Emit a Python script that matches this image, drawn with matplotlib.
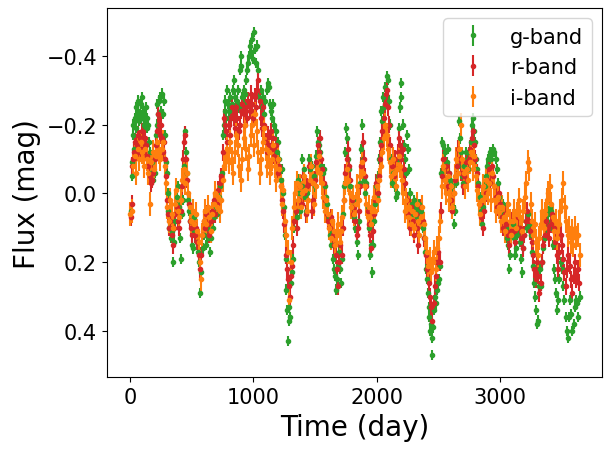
import matplotlib

matplotlib.use("Agg")
import matplotlib.pyplot as plt

# g-band (day, mag)
g_t = [10, 14, 18, 22, 27, 32, 40, 46, 52, 57, 63, 68, 74, 80, 86, 92, 98, 104, 110, 116,
       122, 128, 134, 140, 150, 158, 165, 172, 180, 190, 200, 210, 216, 222, 230, 238, 246, 252, 260, 266,
       272, 280, 288, 296, 305, 312, 320, 330, 338, 346, 354, 362, 370, 378, 388, 396, 404, 410, 418, 426,
       436, 445, 452, 460, 470, 480, 490, 500, 508, 515, 522, 530, 540, 550, 560, 570, 578, 590, 600, 612,
       624, 636, 648, 660, 672, 684, 696, 708, 720, 730, 742, 750, 758, 766, 772, 780, 788, 794, 802, 810,
       818, 826, 834, 842, 850, 858, 866, 874, 882, 890, 896, 902, 910, 920, 928, 936, 944, 952, 960, 968,
       976, 984, 992, 1000, 1008, 1016, 1024, 1032, 1040, 1048, 1058, 1068, 1078, 1088, 1098, 1108, 1118, 1128, 1136, 1144,
       1152, 1160, 1170, 1180, 1190, 1200, 1210, 1218, 1226, 1234, 1242, 1250, 1256, 1262, 1268, 1274, 1280, 1286, 1292, 1300,
       1308, 1316, 1324, 1332, 1342, 1352, 1360, 1370, 1380, 1390, 1398, 1408, 1418, 1428, 1438, 1448, 1458, 1468, 1478, 1490,
       1500, 1510, 1518, 1526, 1534, 1542, 1552, 1562, 1572, 1582, 1592, 1600, 1610, 1620, 1628, 1636, 1646, 1656, 1664, 1672,
       1680, 1688, 1696, 1704, 1712, 1720, 1730, 1738, 1746, 1754, 1762, 1770, 1778, 1786, 1796, 1806, 1816, 1826, 1836, 1846,
       1856, 1866, 1874, 1882, 1890, 1898, 1906, 1916, 1926, 1936, 1944, 1952, 1960, 1968, 1976, 1984, 1994, 2004, 2014, 2022,
       2030, 2038, 2046, 2054, 2062, 2070, 2080, 2090, 2098, 2106, 2116, 2124, 2134, 2144, 2154, 2164, 2174, 2182, 2188, 2194,
       2200, 2210, 2220, 2230, 2238, 2246, 2254, 2262, 2272, 2282, 2292, 2302, 2312, 2322, 2332, 2342, 2352, 2362, 2372, 2382,
       2390, 2398, 2406, 2414, 2420, 2426, 2432, 2438, 2444, 2450, 2456, 2464, 2472, 2480, 2488, 2496, 2504, 2512, 2520, 2528,
       2536, 2546, 2556, 2566, 2576, 2586, 2596, 2606, 2616, 2626, 2636, 2646, 2656, 2664, 2672, 2680, 2690, 2700, 2710, 2720,
       2730, 2740, 2750, 2760, 2770, 2778, 2786, 2794, 2804, 2814, 2824, 2834, 2844, 2854, 2864, 2874, 2884, 2894, 2904, 2914,
       2924, 2934, 2944, 2954, 2964, 2974, 2984, 2994, 3004, 3014, 3024, 3034, 3044, 3054, 3064, 3072, 3080, 3090, 3100, 3110,
       3120, 3130, 3140, 3150, 3160, 3170, 3178, 3186, 3196, 3206, 3216, 3226, 3236, 3246, 3256, 3264, 3272, 3280, 3288, 3296,
       3304, 3312, 3320, 3330, 3340, 3350, 3360, 3370, 3380, 3390, 3400, 3410, 3420, 3430, 3440, 3448, 3456, 3464, 3472, 3480,
       3490, 3500, 3510, 3520, 3530, 3540, 3548, 3556, 3566, 3576, 3586, 3596, 3606, 3614, 3622, 3634, 3646]
g_m = [0.05, -0.05, -0.09, -0.17, -0.2, -0.13, -0.22, -0.19, -0.25, -0.22, -0.27, -0.24, -0.21, -0.23, -0.26, -0.22, -0.28, -0.24, -0.2, -0.23,
       -0.21, -0.25, -0.22, -0.19, -0.2, -0.15, -0.12, -0.06, -0.09, -0.04, -0.06, -0.17, -0.2, -0.26, -0.23, -0.27, -0.28, -0.24, -0.29, -0.23,
       -0.27, -0.17, -0.09, -0.06, 0.0, 0.05, 0.1, 0.13, 0.11, 0.2, 0.14, 0.08, 0.03, 0.01, -0.02, 0.04, 0.13, 0.19, 0.06, 0.02,
       -0.08, -0.18, -0.12, -0.06, 0.02, 0.05, 0.08, 0.15, 0.16, 0.11, 0.07, 0.1, 0.14, 0.17, 0.2, 0.29, 0.23, 0.16, 0.12, 0.15,
       0.1, 0.13, 0.17, 0.13, 0.1, 0.07, 0.04, 0.06, 0.01, -0.02, -0.06, -0.17, -0.2, -0.24, -0.27, -0.22, -0.3, -0.26, -0.24, -0.28,
       -0.22, -0.26, -0.3, -0.33, -0.28, -0.25, -0.27, -0.3, -0.25, -0.36, -0.4, -0.37, -0.28, -0.26, -0.3, -0.29, -0.33, -0.36, -0.38, -0.4,
       -0.43, -0.41, -0.45, -0.39, -0.47, -0.42, -0.38, -0.43, -0.36, -0.28, -0.3, -0.25, -0.28, -0.23, -0.27, -0.3, -0.32, -0.31, -0.26, -0.24,
       -0.22, -0.26, -0.2, -0.18, -0.12, -0.15, -0.1, -0.07, -0.04, -0.07, 0.0, 0.04, 0.12, 0.19, 0.28, 0.34, 0.43, 0.37, 0.33, 0.36,
       0.26, 0.23, 0.19, 0.1, 0.05, 0.07, -0.04, 0.0, 0.05, -0.02, -0.1, -0.07, 0.01, 0.05, 0.0, -0.1, -0.07, -0.04, -0.08, -0.05,
       -0.02, -0.11, -0.18, -0.15, -0.14, -0.12, -0.08, -0.06, -0.07, -0.02, 0.01, 0.03, 0.07, 0.12, 0.15, 0.11, 0.19, 0.22, 0.24, 0.28,
       0.25, 0.21, 0.17, 0.22, 0.26, 0.19, 0.06, -0.02, -0.12, -0.19, -0.16, -0.1, -0.07, -0.02, 0.04, 0.02, 0.07, 0.1, 0.14, 0.18,
       0.08, -0.03, -0.13, -0.2, -0.1, -0.04, 0.0, -0.03, 0.04, 0.1, 0.18, 0.15, 0.23, 0.15, 0.08, 0.03, -0.02, 0.01, -0.05, -0.1,
       -0.15, -0.24, -0.21, -0.28, -0.25, -0.31, -0.34, -0.33, -0.27, -0.2, -0.1, -0.03, -0.06, -0.02, 0.01, 0.0, -0.1, -0.19, -0.25, -0.32,
       -0.28, -0.2, -0.14, -0.1, -0.06, -0.17, -0.13, -0.07, 0.0, 0.03, 0.06, 0.02, 0.04, 0.07, 0.05, 0.03, 0.08, 0.05, 0.1, 0.13,
       0.17, 0.22, 0.25, 0.29, 0.33, 0.36, 0.4, 0.38, 0.42, 0.47, 0.39, 0.34, 0.3, 0.32, 0.28, 0.26, 0.25, 0.21, -0.06, -0.15,
       -0.14, -0.08, -0.12, -0.09, -0.13, -0.06, -0.04, -0.02, 0.04, 0.09, 0.05, -0.03, -0.08, -0.21, -0.16, -0.12, -0.05, -0.03, -0.08, -0.12,
       -0.1, -0.07, -0.12, -0.15, -0.2, -0.22, -0.18, -0.15, -0.1, -0.07, -0.03, 0.01, 0.05, 0.09, 0.04, -0.02, -0.05, -0.08, -0.1, -0.12,
       -0.1, -0.12, -0.13, -0.12, -0.1, -0.07, -0.03, 0.01, 0.04, 0.07, 0.03, 0.06, 0.1, 0.13, 0.15, 0.22, 0.18, 0.12, 0.09, 0.13,
       0.18, 0.16, 0.12, 0.1, 0.14, 0.19, 0.23, 0.16, 0.12, 0.08, 0.1, 0.06, 0.09, 0.12, 0.17, 0.21, 0.26, 0.3, 0.34, 0.38,
       0.37, 0.27, 0.22, 0.27, 0.2, 0.16, 0.13, 0.1, 0.08, 0.06, 0.04, 0.05, 0.1, 0.15, 0.22, 0.25, 0.29, 0.34, 0.31, 0.25,
       0.2, 0.22, 0.27, 0.31, 0.36, 0.4, 0.42, 0.36, 0.31, 0.35, 0.4, 0.38, 0.33, 0.31, 0.32, 0.36, 0.3]
g_err = 0.015

# r-band (day, mag)
r_t = [8, 14, 20, 26, 34, 42, 50, 58, 66, 74, 82, 90, 98, 106, 114, 122, 130, 140, 150, 160,
       170, 180, 190, 200, 210, 218, 226, 234, 242, 250, 258, 266, 274, 284, 292, 300, 308, 318, 328, 338,
       348, 358, 368, 378, 390, 400, 410, 420, 430, 440, 448, 456, 466, 476, 486, 496, 506, 516, 526, 536,
       546, 556, 566, 576, 586, 596, 608, 620, 632, 644, 656, 668, 680, 692, 704, 716, 728, 740, 750, 760,
       770, 780, 790, 800, 810, 820, 830, 840, 850, 860, 870, 880, 890, 900, 910, 920, 930, 940, 950, 960,
       970, 980, 990, 1000, 1010, 1020, 1030, 1040, 1050, 1060, 1070, 1080, 1090, 1100, 1110, 1120, 1130, 1140, 1150, 1160,
       1170, 1180, 1190, 1200, 1210, 1220, 1230, 1240, 1252, 1262, 1272, 1280, 1288, 1296, 1304, 1312, 1322, 1332, 1344, 1356,
       1366, 1378, 1390, 1402, 1414, 1426, 1438, 1450, 1462, 1474, 1486, 1498, 1510, 1520, 1530, 1540, 1550, 1560, 1572, 1584,
       1596, 1608, 1620, 1632, 1644, 1656, 1666, 1676, 1686, 1696, 1706, 1716, 1726, 1736, 1746, 1756, 1766, 1776, 1786, 1796,
       1806, 1816, 1826, 1836, 1846, 1856, 1866, 1876, 1886, 1896, 1906, 1916, 1926, 1936, 1946, 1956, 1966, 1976, 1986, 1996,
       2006, 2016, 2026, 2036, 2046, 2056, 2066, 2076, 2084, 2092, 2100, 2110, 2120, 2130, 2140, 2150, 2160, 2170, 2180, 2190,
       2200, 2210, 2220, 2230, 2242, 2254, 2266, 2278, 2290, 2302, 2314, 2326, 2338, 2350, 2362, 2374, 2386, 2398, 2410, 2420,
       2430, 2440, 2450, 2460, 2470, 2480, 2490, 2500, 2510, 2520, 2530, 2540, 2552, 2564, 2576, 2588, 2600, 2612, 2624, 2636,
       2648, 2660, 2672, 2684, 2696, 2708, 2720, 2732, 2744, 2756, 2768, 2778, 2788, 2798, 2810, 2822, 2834, 2846, 2858, 2870,
       2882, 2894, 2906, 2918, 2930, 2942, 2954, 2966, 2978, 2990, 3002, 3014, 3026, 3038, 3050, 3062, 3074, 3086, 3098, 3110,
       3122, 3134, 3146, 3158, 3170, 3182, 3194, 3206, 3218, 3230, 3242, 3254, 3266, 3278, 3288, 3298, 3308, 3318, 3328, 3338,
       3350, 3362, 3374, 3386, 3398, 3410, 3422, 3434, 3446, 3458, 3470, 3480, 3490, 3500, 3510, 3520, 3530, 3540, 3550, 3562,
       3574, 3586, 3596, 3606, 3616, 3628, 3640]
r_m = [0.07, 0.03, -0.08, -0.1, -0.12, -0.15, -0.11, -0.14, -0.17, -0.12, -0.16, -0.13, -0.18, -0.15, -0.12, -0.16, -0.14, -0.11, -0.08, -0.05,
       -0.03, -0.04, -0.06, -0.1, -0.14, -0.18, -0.23, -0.2, -0.17, -0.2, -0.16, -0.12, -0.15, -0.1, -0.05, 0.02, 0.06, 0.1, 0.08, 0.12,
       0.15, 0.1, 0.06, 0.04, 0.08, 0.1, 0.05, -0.02, -0.1, -0.15, -0.17, -0.1, -0.04, 0.03, 0.08, 0.1, 0.12, 0.09, 0.12, 0.1,
       0.14, 0.18, 0.22, 0.18, 0.12, 0.08, 0.1, 0.06, 0.09, 0.12, 0.08, 0.05, 0.02, 0.06, 0.03, -0.01, -0.03, -0.05, -0.12, -0.22,
       -0.2, -0.18, -0.15, -0.2, -0.17, -0.22, -0.25, -0.22, -0.19, -0.25, -0.22, -0.18, -0.2, -0.24, -0.26, -0.23, -0.2, -0.25, -0.22, -0.27,
       -0.24, -0.29, -0.26, -0.22, -0.28, -0.25, -0.3, -0.33, -0.27, -0.22, -0.19, -0.25, -0.2, -0.15, -0.12, -0.17, -0.14, -0.18, -0.13, -0.16,
       -0.11, -0.14, -0.1, -0.06, -0.08, -0.02, 0.02, 0.05, 0.09, 0.18, 0.22, 0.25, 0.27, 0.3, 0.24, 0.21, 0.15, 0.08, 0.05, 0.1,
       0.02, -0.02, 0.03, -0.05, 0.0, 0.06, -0.02, -0.08, -0.03, 0.05, 0.02, -0.04, -0.09, -0.14, -0.12, -0.16, -0.1, -0.07, -0.03, 0.02,
       0.06, 0.08, 0.1, 0.07, 0.12, 0.15, 0.18, 0.22, 0.27, 0.2, 0.15, 0.18, 0.1, 0.02, -0.06, -0.1, -0.13, -0.08, -0.04, 0.02,
       0.06, 0.04, 0.08, 0.12, 0.1, 0.05, -0.02, -0.08, -0.15, -0.1, -0.05, -0.02, 0.05, 0.09, 0.12, 0.16, 0.11, 0.06, 0.02, -0.03,
       0.0, -0.05, -0.1, -0.14, -0.18, -0.22, -0.26, -0.29, -0.3, -0.25, -0.2, -0.14, -0.08, -0.1, -0.05, -0.1, -0.07, -0.12, -0.16, -0.14,
       -0.1, -0.13, -0.07, -0.03, 0.02, 0.06, 0.1, 0.04, 0.08, 0.12, 0.06, 0.1, 0.15, 0.08, 0.04, 0.08, 0.13, 0.18, 0.22, 0.26,
       0.3, 0.33, 0.37, 0.32, 0.27, 0.24, 0.2, 0.17, 0.2, 0.05, -0.05, -0.1, -0.04, -0.08, -0.02, -0.06, 0.02, 0.05, 0.0, -0.04,
       -0.08, -0.13, -0.1, -0.06, -0.02, -0.05, -0.09, -0.04, -0.1, -0.13, -0.16, -0.18, -0.14, -0.1, -0.06, -0.02, 0.03, 0.07, 0.1, 0.05,
       0.0, -0.04, -0.07, -0.03, -0.08, -0.05, -0.02, 0.01, 0.04, 0.0, 0.03, 0.07, 0.1, 0.06, 0.09, 0.12, 0.15, 0.11, 0.08, 0.11,
       0.14, 0.1, 0.07, 0.1, 0.13, 0.16, 0.12, 0.08, 0.05, 0.08, 0.11, 0.14, 0.18, 0.22, 0.25, 0.2, 0.24, 0.29, 0.26, 0.2,
       0.15, 0.12, 0.08, 0.1, 0.13, 0.09, 0.06, 0.1, 0.14, 0.18, 0.22, 0.17, 0.12, 0.15, 0.19, 0.23, 0.27, 0.22, 0.18, 0.21,
       0.25, 0.29, 0.24, 0.2, 0.25, 0.22, 0.26]
r_err = 0.025

# i-band (day, mag)
i_t = [4, 16, 28, 40, 52, 64, 76, 88, 100, 112, 124, 136, 148, 160, 172, 184, 196, 208, 220, 232,
       244, 256, 268, 280, 292, 304, 316, 328, 340, 352, 364, 376, 388, 400, 412, 424, 436, 448, 460, 472,
       484, 496, 508, 520, 532, 544, 556, 566, 574, 584, 596, 608, 620, 632, 644, 656, 668, 680, 692, 704,
       716, 728, 740, 752, 764, 776, 788, 800, 812, 824, 836, 848, 860, 872, 884, 896, 908, 920, 932, 944,
       956, 968, 980, 992, 1004, 1016, 1028, 1040, 1052, 1064, 1076, 1088, 1100, 1112, 1124, 1136, 1148, 1160, 1172, 1184,
       1196, 1208, 1220, 1232, 1244, 1256, 1268, 1280, 1292, 1302, 1314, 1326, 1338, 1350, 1362, 1374, 1386, 1398, 1410, 1422,
       1434, 1446, 1458, 1470, 1482, 1494, 1506, 1518, 1530, 1542, 1554, 1566, 1578, 1590, 1602, 1614, 1626, 1638, 1650, 1662,
       1674, 1686, 1698, 1710, 1722, 1734, 1746, 1758, 1770, 1782, 1794, 1806, 1818, 1830, 1842, 1854, 1866, 1878, 1890, 1902,
       1914, 1926, 1938, 1950, 1962, 1974, 1986, 1998, 2010, 2022, 2034, 2046, 2058, 2070, 2082, 2094, 2106, 2118, 2130, 2142,
       2154, 2166, 2178, 2190, 2202, 2214, 2226, 2238, 2250, 2262, 2274, 2286, 2298, 2310, 2322, 2334, 2346, 2358, 2370, 2382,
       2394, 2406, 2418, 2430, 2442, 2454, 2466, 2478, 2490, 2502, 2514, 2526, 2538, 2550, 2562, 2574, 2586, 2598, 2610, 2622,
       2634, 2646, 2658, 2670, 2682, 2694, 2706, 2718, 2730, 2742, 2754, 2766, 2778, 2790, 2802, 2814, 2826, 2838, 2850, 2862,
       2874, 2886, 2898, 2910, 2922, 2934, 2946, 2958, 2970, 2982, 2994, 3006, 3018, 3030, 3042, 3054, 3066, 3078, 3090, 3102,
       3114, 3126, 3138, 3150, 3162, 3174, 3186, 3198, 3210, 3222, 3234, 3246, 3258, 3270, 3282, 3294, 3306, 3318, 3330, 3342,
       3354, 3366, 3378, 3390, 3402, 3414, 3426, 3438, 3450, 3462, 3474, 3486, 3498, 3510, 3522, 3534, 3546, 3558, 3570, 3582,
       3594, 3606, 3618, 3630, 3644]
i_m = [0.06, 0.05, -0.08, -0.11, -0.06, -0.13, -0.1, -0.15, -0.12, -0.08, -0.13, -0.1, -0.06, 0.03, -0.09, -0.12, -0.07, -0.11, -0.15, -0.12,
       -0.1, -0.13, -0.15, -0.08, -0.03, 0.04, 0.08, 0.02, 0.06, 0.1, 0.03, -0.01, 0.05, 0.07, 0.02, -0.04, -0.07, -0.03, -0.06, 0.0,
       0.04, 0.08, 0.05, 0.09, 0.06, 0.11, 0.14, 0.2, 0.25, 0.12, 0.08, 0.05, 0.09, 0.04, 0.07, 0.11, 0.06, 0.03, 0.0, 0.04,
       0.01, 0.05, 0.02, -0.04, -0.08, -0.1, -0.13, -0.09, -0.15, -0.1, -0.06, -0.12, -0.17, -0.14, -0.08, -0.04, -0.1, -0.16, -0.2, -0.13,
       -0.07, -0.11, -0.17, -0.2, -0.14, -0.23, -0.18, -0.12, -0.06, -0.1, -0.15, -0.19, -0.13, -0.08, -0.12, -0.06, -0.1, -0.14, -0.08, -0.04,
       -0.1, -0.07, -0.02, 0.03, -0.01, 0.08, 0.12, 0.17, 0.31, 0.2, 0.1, 0.04, 0.0, -0.03, 0.02, -0.02, 0.04, 0.0, -0.05, -0.01,
       0.05, 0.02, -0.04, -0.08, -0.03, 0.03, -0.02, -0.07, -0.11, -0.06, -0.03, 0.01, 0.05, 0.02, 0.06, 0.1, 0.13, 0.08, 0.11, 0.15,
       0.12, 0.09, 0.14, 0.11, 0.07, 0.02, -0.03, -0.07, -0.04, 0.0, 0.04, 0.01, 0.06, 0.03, -0.02, 0.02, -0.05, -0.09, -0.06, -0.02,
       0.03, 0.07, 0.04, 0.09, 0.05, 0.01, 0.05, -0.02, 0.02, -0.04, -0.08, -0.12, -0.16, -0.2, -0.17, -0.13, -0.09, -0.05, -0.1, -0.06,
       -0.02, -0.07, -0.11, -0.08, -0.04, 0.0, 0.05, 0.02, 0.07, 0.04, 0.09, 0.05, 0.1, 0.06, 0.03, 0.08, 0.12, 0.07, 0.04, 0.09,
       0.13, 0.17, 0.21, 0.19, 0.23, 0.2, 0.17, 0.22, 0.16, 0.13, 0.08, -0.02, -0.08, -0.04, 0.0, -0.05, 0.02, -0.02, 0.04, 0.0,
       -0.05, -0.1, -0.06, -0.13, -0.2, -0.1, -0.06, -0.02, -0.07, -0.04, -0.09, -0.12, -0.07, -0.11, -0.05, -0.01, 0.03, 0.06, 0.02, -0.02,
       0.01, -0.04, 0.0, -0.03, 0.02, -0.06, -0.02, 0.02, 0.05, 0.01, 0.04, 0.08, 0.04, 0.07, 0.11, 0.06, 0.03, 0.08, 0.12, 0.08,
       0.05, 0.1, 0.06, 0.02, 0.07, 0.11, 0.05, 0.01, -0.03, -0.09, -0.07, 0.03, 0.08, 0.12, 0.09, 0.14, 0.18, 0.13, 0.09, 0.05,
       0.1, 0.06, 0.02, 0.0, -0.02, 0.03, 0.07, 0.11, 0.08, 0.13, 0.09, 0.05, 0.02, -0.03, 0.04, 0.08, 0.12, 0.1, 0.14, 0.11,
       0.15, 0.1, 0.13, 0.12, 0.18]
i_err = 0.035

bands = [
    ("g-band", g_t, g_m, g_err, "tab:green"),
    ("r-band", r_t, r_m, r_err, "tab:red"),
    ("i-band", i_t, i_m, i_err, "tab:orange"),
]

fig = plt.figure(figsize=(6.13, 4.52), dpi=100)
ax = fig.add_axes([0.174, 0.163, 0.808, 0.817])

for name, t, m, err, col in bands:
    ax.errorbar(t, m, yerr=err, fmt=".", color=col, label=name)

ax.set_xlim(-189, 3825)
ax.set_ylim(0.535, -0.539)
ax.set_xticks([0, 1000, 2000, 3000])
ax.set_yticks([-0.4, -0.2, 0.0, 0.2, 0.4])
ax.tick_params(labelsize=15)
ax.set_xlabel("Time (day)", fontsize=20)
ax.set_ylabel("Flux (mag)", fontsize=20)
ax.legend(loc="upper right", fontsize=15)

fig.savefig("out.png", dpi=100)
